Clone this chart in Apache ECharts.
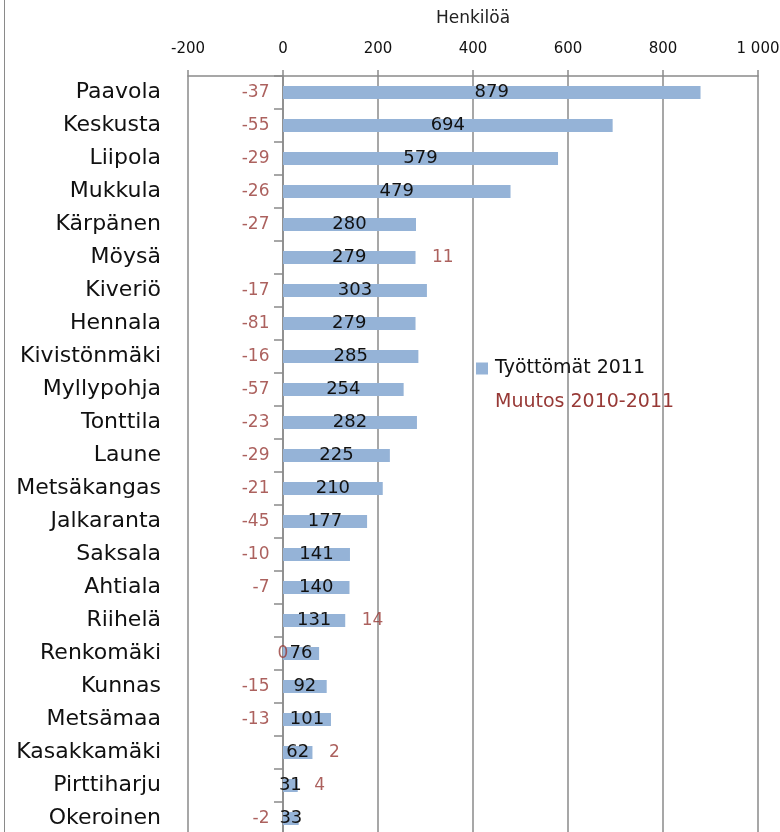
<!DOCTYPE html>
<html>
<head>
<meta charset="utf-8">
<script src="https://cdn.jsdelivr.net/npm/echarts@6/dist/echarts.min.js"></script>
<style>
html,body{margin:0;padding:0;background:#fff;}
#chart{width:780px;height:832px;}
</style>
</head>
<body>
<div id="chart"></div>
<script>
var alueet = ['Paavola','Keskusta','Liipola','Mukkula','Kärpänen','Möysä','Kiveriö','Hennala','Kivistönmäki','Myllypohja','Tonttila','Laune','Metsäkangas','Jalkaranta','Saksala','Ahtiala','Riihelä','Renkomäki','Kunnas','Metsämaa','Kasakkamäki','Pirttiharju','Okeroinen'];
var tyottomat = [879,694,579,479,280,279,303,279,285,254,282,225,210,177,141,140,131,76,92,101,62,31,33];
var muutos = [-37,-55,-29,-26,-27,11,-17,-81,-16,-57,-23,-29,-21,-45,-10,-7,14,0,-15,-13,2,4,-2];
var xTicks = [-200,0,200,400,600,800,1000];

var font = 'DejaVu Sans';
var punainen = '#973936';
var harmaa = '#8a8a8a';

// muutos-luvut: positiiviset palkin perään, negatiiviset nollan vasemmalle puolelle
var muutosData = alueet.map(function(a, i){
  var m = muutos[i];
  var pos = m > 0 ? 'right' : (m < 0 ? 'left' : 'inside');
  return {
    value: [m > 0 ? tyottomat[i] : 0, a],
    label: {position: pos, distance: m > 0 ? 16 : 13}
  };
});

var chart = echarts.init(document.getElementById('chart'));
chart.setOption({
  animation: false,
  textStyle: {fontFamily: font},
  grid: {left: 188, right: 22, top: 76, height: 759, containLabel: false, outerBoundsMode: 'none'},
  graphic: [{
    type: 'line',
    shape: {x1: 4.5, y1: 0, x2: 4.5, y2: 832},
    style: {stroke: harmaa, lineWidth: 1}
  }],
  legend: {
    orient: 'vertical',
    left: 471,
    top: 354,
    padding: 5,
    itemWidth: 12,
    itemHeight: 12,
    itemGap: 15,
    icon: 'rect',
    textStyle: {fontFamily: font, fontSize: 19, color: '#111', padding: [0, 0, 0, 2]},
    data: [
      {name: 'Työttömät 2011', itemStyle: {color: '#95b3d7'}},
      {name: 'Muutos 2010-2011', itemStyle: {opacity: 0}, textStyle: {color: punainen}}
    ]
  },
  xAxis: {
    type: 'value',
    position: 'top',
    min: -200,
    max: 1000,
    interval: 200,
    name: 'Henkilöä',
    nameLocation: 'middle',
    nameGap: 49,
    nameTextStyle: {fontFamily: font, fontSize: 17, color: '#222'},
    axisLine: {show: true, lineStyle: {color: harmaa, width: 1.5}},
    axisTick: {show: true, length: 6, lineStyle: {color: harmaa, width: 1.5}},
    axisLabel: {
      margin: 19,
      fontFamily: font,
      fontSize: 15,
      color: '#111',
      formatter: function(v){ return xTicks.indexOf(v) >= 0 && v >= 1000 ? String(v).replace(/(\d)(\d{3})$/, '$1 $2') : String(v); }
    },
    splitLine: {show: true, lineStyle: {color: harmaa, width: 1.5}}
  },
  yAxis: {
    type: 'category',
    inverse: true,
    data: alueet,
    axisLine: {show: true, onZero: true, lineStyle: {color: harmaa, width: 1.5}},
    axisTick: {show: true, length: 9, lineStyle: {color: harmaa, width: 1.5}},
    axisLabel: {margin: 27, fontFamily: font, fontSize: 22, color: '#111'},
    splitLine: {show: false}
  },
  series: [{
    name: 'Työttömät 2011',
    type: 'bar',
    barWidth: 13,
    data: tyottomat,
    itemStyle: {color: '#95b3d7'},
    label: {show: true, position: 'inside', fontFamily: font, fontSize: 18, color: '#111'},
    emphasis: {disabled: true}
  }, {
    name: 'Muutos 2010-2011',
    type: 'scatter',
    symbol: 'circle',
    symbolSize: 1,
    data: muutosData,
    itemStyle: {color: 'rgba(0,0,0,0)'},
    label: {
      show: true,
      fontFamily: font,
      fontSize: 17,
      color: punainen,
      formatter: function(p){ return muutos[p.dataIndex]; }
    },
    emphasis: {disabled: true},
    z: 5
  }]
});
</script>
</body>
</html>
